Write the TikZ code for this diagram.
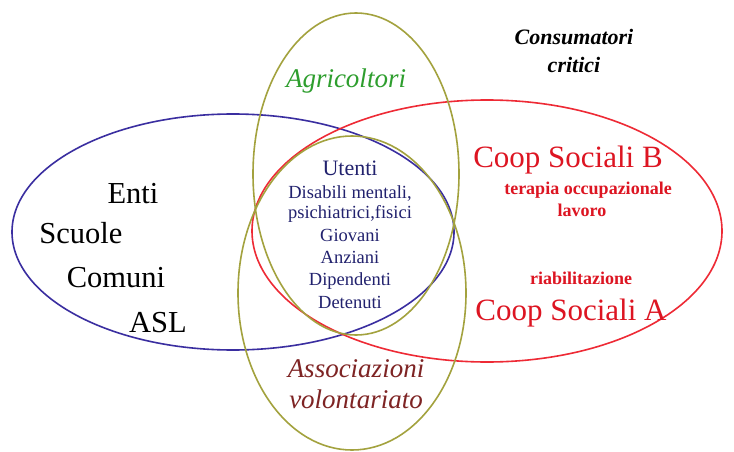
\documentclass[tikz,border=0pt]{standalone}
\usepackage{fontspec}
\setmainfont{Liberation Serif}
\definecolor{olv}{HTML}{A3A23E}
\definecolor{blu}{HTML}{3A2EA0}
\definecolor{rd}{HTML}{EE2A35}
\definecolor{grn}{HTML}{2E9E2E}
\definecolor{txtred}{HTML}{DD1522}
\definecolor{navy}{HTML}{22226E}
\definecolor{brn}{HTML}{7E2424}
\tikzset{
  ell/.style={line width=1.6pt},
  lbl/.style={anchor=base, inner sep=0pt},
  big/.style={lbl, font=\fontsize{30.5}{30.5}\selectfont},
  coop/.style={lbl, text=txtred, font=\fontsize{31}{31}\selectfont},
  small/.style={lbl, text=txtred, font=\fontsize{18}{18}\selectfont\bfseries},
  ut/.style={lbl, text=navy, font=\fontsize{18.5}{18.5}\selectfont},
}
\begin{document}
\begin{tikzpicture}[x=1pt,y=-1pt]
\useasboundingbox (0,0) rectangle (734,452);
\fill[white] (0,0) rectangle (734,452);
% ellipses
\draw[ell, blu] (233,232) ellipse [x radius=221, y radius=118];
\draw[ell, rd] (487,231) ellipse [x radius=235, y radius=131];
\draw[ell, olv] (356,174) ellipse [x radius=103, y radius=161];
\draw[ell, olv] (352,293) ellipse [x radius=114, y radius=157];
% left
\node[big] (enti) at (133,203) {Enti};
\node[big] (scuole) at (81,243) {Scuole};
\node[big] (comuni) at (116,287) {Comuni};
\node[big] (asl) at (158,332) {ASL};
% top
\node[lbl, text=grn, font=\fontsize{27}{27}\selectfont\itshape] (agri) at (346,88) {Agricoltori};
\node[lbl, font=\fontsize{22}{22}\selectfont\bfseries\itshape] (cons) at (574,45) {Consumatori};
\node[lbl, font=\fontsize{22}{22}\selectfont\bfseries\itshape] (crit) at (574,73) {critici};
% right
\node[coop] (coopb) at (568,167) {Coop Sociali B};
\node[small] (terapia) at (588,194) {terapia occupazionale};
\node[small] (lavoro) at (582,216) {lavoro};
\node[small] (riab) at (581,284) {riabilitazione};
\node[coop] (coopa) at (571,320) {Coop Sociali A};
% center
\node[lbl, text=navy, font=\fontsize{22}{22}\selectfont] (utenti) at (350,175) {Utenti};
\node[ut] (dis) at (350,198) {Disabili mentali,};
\node[ut] (psi) at (350,218) {psichiatrici,fisici};
\node[ut] (gio) at (350,241) {Giovani};
\node[ut] (anz) at (350,263) {Anziani};
\node[ut] (dip) at (350,285) {Dipendenti};
\node[ut] (det) at (350,308) {Detenuti};
% bottom
\node[lbl, text=brn, font=\fontsize{27}{27}\selectfont\itshape] (ass) at (356,377) {Associazioni};
\node[lbl, text=brn, font=\fontsize{27}{27}\selectfont\itshape] (vol) at (356,408) {volontariato};
\end{tikzpicture}
\end{document}
